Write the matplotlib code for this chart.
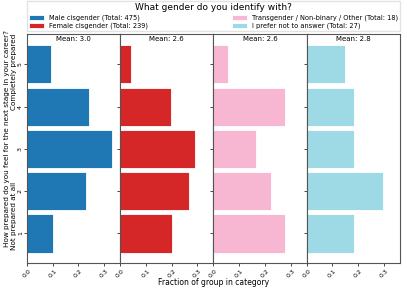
import numpy as np
import matplotlib.pyplot as plt

levels = [1, 2, 3, 4, 5]
groups = ['Male cisgender', 'Female cisgender',
          'Transgender / Non-binary / Other', 'I prefer not to answer']
totals = [475, 239, 18, 27]
male = [49, 109, 157, 115, 45]
female = [48, 64, 70, 47, 10]
trans = [5, 4, 3, 5, 1]
noanswer = [5, 8, 5, 5, 4]
counts = [male, female, trans, noanswer]
colors = ['#1f77b4', '#d62728', '#f7b6d2', '#9edae5']

fig, axes = plt.subplots(1, 4, figsize=(4.07, 2.91), dpi=100, sharex=True, sharey=True)
fig.subplots_adjust(left=0.066, right=0.983, top=0.883, bottom=0.096, wspace=0)

handles = []
for ax, c, col, g, tot in zip(axes, counts, colors, groups, totals):
    frac = np.array(c) / sum(c)
    mean = np.sum(np.array(levels) * frac)
    b = ax.barh(levels, frac, height=0.9, color=col, edgecolor='white', linewidth=0.6,
                label=f'{g} (Total: {tot})')
    handles.append(b)
    ax.text(0.5, 0.99, f'Mean: {mean:.1f}', transform=ax.transAxes,
            ha='center', va='top', fontsize=5)
    ax.set_xlim(0, 0.363)
    ax.set_ylim(0.3, 5.72)
    ax.set_xticks([0, 0.1, 0.2, 0.3])
    ax.set_xticklabels(['0.0', '0.1', '0.2', '0.3'], rotation=45, fontsize=4.5)
    ax.tick_params(axis='x', length=2, width=0.5, pad=1.5)
    ax.tick_params(axis='y', length=2, width=0.5, pad=0.8)
    for s in ax.spines.values():
        s.set_color('#555555')
        s.set_linewidth(0.8)

axes[0].set_yticks(levels)
axes[0].set_yticklabels([str(l) for l in levels], rotation=90, fontsize=4.5, va='center')

fig.text(0.5255, 0.015, 'Fraction of group in category', ha='center', va='bottom', fontsize=5.5)
fig.text(0.016, 0.524, 'How prepared do you feel for the next stage in your career?',
         rotation=90, ha='center', va='center', fontsize=5.2)
fig.text(0.034, 0.141, 'Not prepared at all', rotation=90, ha='center', va='bottom', fontsize=5.2)
fig.text(0.034, 0.885, 'Completely prepared', rotation=90, ha='center', va='top', fontsize=5.2)

fig.legend(handles=handles, loc='lower left', bbox_to_anchor=(0.066, 0.892, 0.917, 0.098),
           mode='expand', ncol=2, fontsize=4.8, title='What gender do you identify with?',
           title_fontsize=6.5, frameon=True, borderaxespad=0, handlelength=2.2,
           handleheight=0.8, labelspacing=0.3, borderpad=0.3, fancybox=False,
           edgecolor='#dddddd')

fig.savefig('out.png', dpi=100)
